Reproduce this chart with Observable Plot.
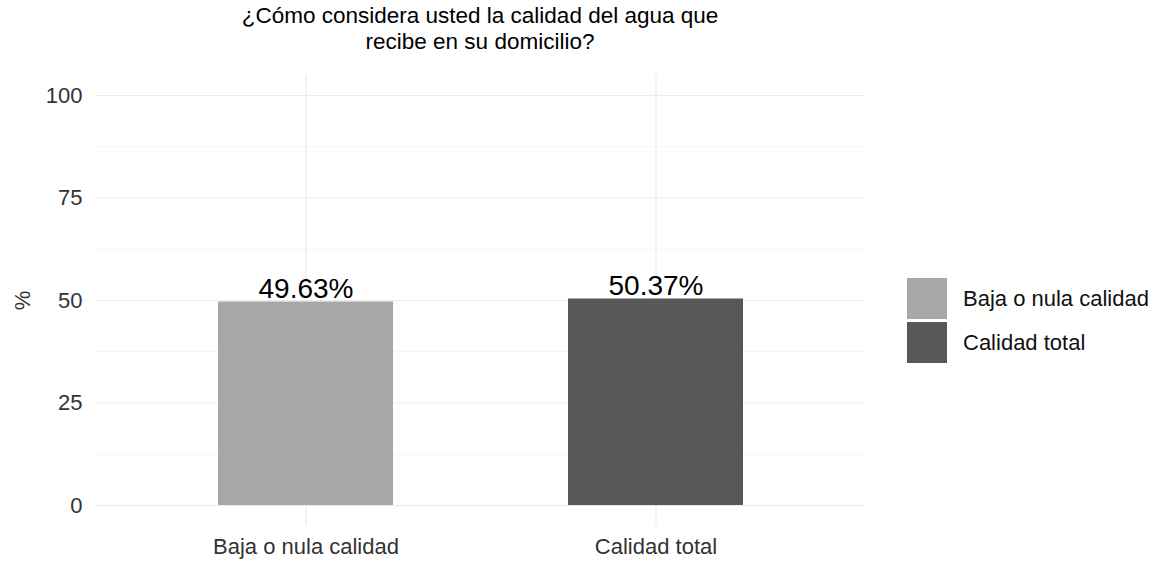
<!DOCTYPE html>
<html>
<head>
<meta charset="utf-8">
<script src="https://cdn.jsdelivr.net/npm/d3@7"></script>
<script src="https://cdn.jsdelivr.net/npm/@observablehq/plot@0.6"></script>
<style>
  html, body { margin: 0; padding: 0; background: #fff; }
  #wrap { position: relative; width: 1160px; height: 561px; overflow: hidden; font-family: "Liberation Sans", Arial, sans-serif; }
  #title { position: relative; height: 62px; }
  #title div { position: absolute; left: 0; width: 960px; top: 3px; text-align: center; font-size: 22.5px; line-height: 26px; color: #000; }
  #legend { position: absolute; left: 907px; top: 278px; }
  .row { display: flex; align-items: center; height: 41px; margin-bottom: 3px; }
  .key { width: 40px; height: 41px; }
  .lab { margin-left: 16px; font-size: 22px; color: #111; }
</style>
</head>
<body>
<div id="wrap">
  <div id="title"></div>
  <div id="chart"></div>
  <div id="legend"></div>
</div>
<script>
const titleLines = ["¿Cómo considera usted la calidad del agua que", "recibe en su domicilio?"];
const categories = ["Baja o nula calidad", "Calidad total"];
const values = [49.63, 50.37];
const valueLabels = ["49.63%", "50.37%"];
const colors = ["#a7a7a7", "#585858"];
const yTicks = [0, 25, 50, 75, 100];
const yMinorTicks = [12.5, 37.5, 62.5, 87.5];
const yLabel = "%";

const data = categories.map((c, i) => ({category: c, value: values[i], label: valueLabels[i]}));

document.querySelector("#title").innerHTML = "<div>" + titleLines.join("<br>") + "</div>";

const plot = Plot.plot({
  width: 1160,
  height: 499,
  marginLeft: 95,
  marginRight: 295,
  marginTop: 12.5,
  marginBottom: 35.5,
  style: {fontFamily: "'Liberation Sans', Arial, sans-serif", fontSize: "22px", background: "#fff"},
  x: {domain: categories, paddingInner: 0.5, paddingOuter: 0.35, label: null},
  y: {domain: [-5, 105], label: null},
  color: {domain: categories, range: colors},
  marks: [
    Plot.gridY(yMinorTicks, {stroke: "#f4f4f4", strokeOpacity: 1, strokeWidth: 1}),
    Plot.gridY(yTicks, {stroke: "#ebebeb", strokeOpacity: 1, strokeWidth: 1.2}),
    Plot.gridX(categories, {stroke: "#ebebeb", strokeOpacity: 1, strokeWidth: 1.2}),
    Plot.barY(data, {x: "category", y: "value", fill: "category", inset: 0}),
    Plot.text(data, {x: "category", y: "value", text: "label", lineAnchor: "bottom", dy: -4, fontSize: 28, fill: "#000"}),
    Plot.axisY(yTicks, {tickSize: 0, tickPadding: 13, label: yLabel, labelAnchor: "center", labelArrow: "none", labelOffset: 81, fill: "#333", fontSize: 22}),
    Plot.axisX({tickSize: 0, tickPadding: 12.5, label: null, fill: "#333", fontSize: 22})
  ]
});
document.querySelector("#chart").appendChild(plot);

const legend = document.querySelector("#legend");
categories.forEach((c, i) => {
  const row = document.createElement("div");
  row.className = "row";
  row.innerHTML = `<div class="key" style="background:${colors[i]}"></div><div class="lab">${c}</div>`;
  legend.appendChild(row);
});
</script>
</body>
</html>
